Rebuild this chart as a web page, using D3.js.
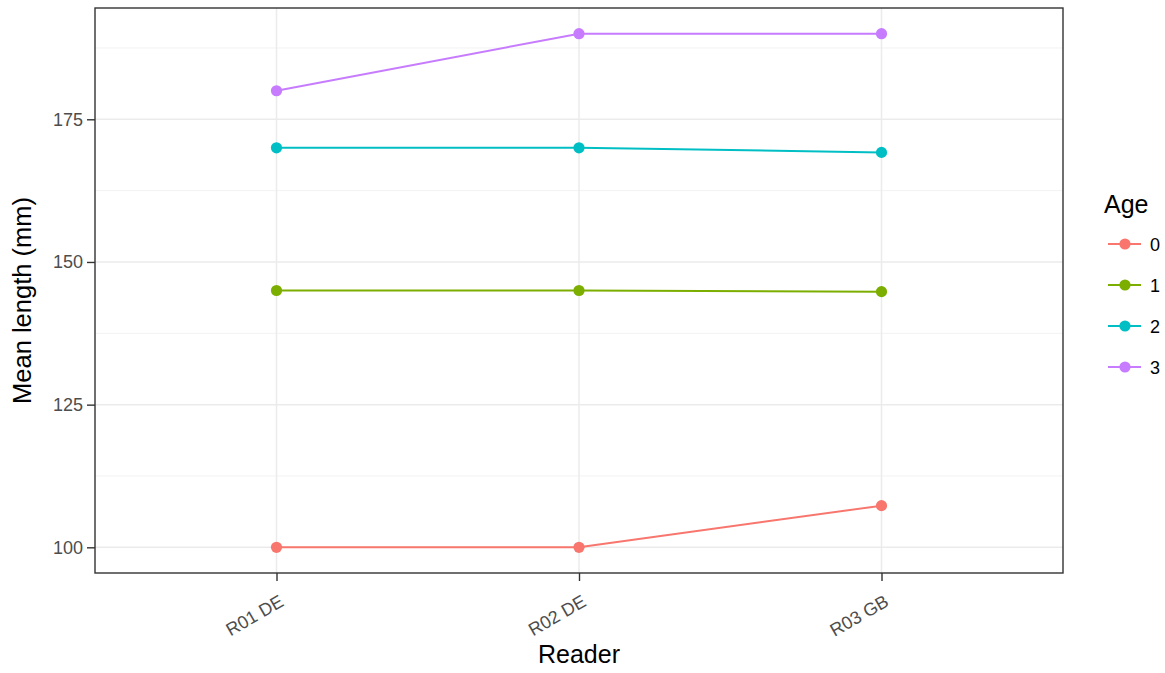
<!DOCTYPE html>
<html><head><meta charset="utf-8">
<script src="https://cdn.jsdelivr.net/npm/d3@7"></script>
<style>body{margin:0;background:#fff;} text{font-family:"Liberation Sans",Arial,sans-serif;}</style>
</head><body>
<svg id="c" width="1165" height="673"></svg>
<script>
const readers = ["R01 DE", "R02 DE", "R03 GB"];
const ages = ["0", "1", "2", "3"];
const colors = ["#F8766D", "#7CAE00", "#00BFC4", "#C77CFF"];
const age0 = [100, 100, 107.3];
const age1 = [145, 145, 144.8];
const age2 = [170, 170, 169.2];
const age3 = [180, 190, 190];
const yTicks = [100, 125, 150, 175];
const yMinor = [112.5, 137.5, 162.5, 187.5];
const seriesValues = [age0, age1, age2, age3];

const svg = d3.select("#c");
const L = 95, R = 1063, T = 8, B = 573;
const x = d3.scalePoint().domain(readers).range([L, R]).padding(0.6);
const yMinV = 95.5, yMaxV = 194.5;
const y = d3.scaleLinear().domain([yMinV, yMaxV]).range([B, T]);
const FF = "Liberation Sans, Arial, sans-serif";

// grid
const g = svg.append("g");
g.selectAll(".mn").data(yMinor).enter().append("line")
  .attr("x1", L).attr("x2", R).attr("y1", d => y(d)).attr("y2", d => y(d))
  .attr("stroke", "#f2f2f2").attr("stroke-width", 1);
g.selectAll(".mj").data(yTicks).enter().append("line")
  .attr("x1", L).attr("x2", R).attr("y1", d => y(d)).attr("y2", d => y(d))
  .attr("stroke", "#ebebeb").attr("stroke-width", 1.5);
g.selectAll(".mx").data(readers).enter().append("line")
  .attr("x1", d => x(d)).attr("x2", d => x(d)).attr("y1", T).attr("y2", B)
  .attr("stroke", "#ebebeb").attr("stroke-width", 1.5);

// lines & points
const line = d3.line().x(d => x(d.r)).y(d => y(d.v));
seriesValues.forEach((vals, i) => {
  const pts = vals.map((v, j) => ({r: readers[j], v}));
  svg.append("path").datum(pts).attr("d", line).attr("fill", "none")
    .attr("stroke", colors[i]).attr("stroke-width", 2);
  svg.selectAll(".p" + i).data(pts).enter().append("circle")
    .attr("cx", d => x(d.r)).attr("cy", d => y(d.v)).attr("r", 5.6)
    .attr("fill", colors[i]);
});

// border
svg.append("rect").attr("x", L).attr("y", T).attr("width", R - L).attr("height", B - T)
  .attr("fill", "none").attr("stroke", "#333333").attr("stroke-width", 1.4);

// y axis
const ya = svg.append("g").attr("transform", `translate(${L},0)`)
  .call(d3.axisLeft(y).tickValues(yTicks).tickSize(8).tickPadding(4));
ya.select(".domain").remove();
ya.selectAll(".tick line").attr("stroke", "#333333").attr("stroke-width", 1.4);
ya.selectAll(".tick text").attr("fill", "#4d4d4d").attr("font-size", 18)
  .style("font-family", FF);

// x axis
const xa = svg.append("g").attr("transform", `translate(0,${B})`)
  .call(d3.axisBottom(x).tickSize(8));
xa.select(".domain").remove();
xa.selectAll(".tick line").attr("stroke", "#333333").attr("stroke-width", 1.4);
xa.selectAll(".tick text").attr("fill", "#4d4d4d").attr("font-size", 18)
  .style("font-family", FF)
  .attr("text-anchor", "end").attr("dy", null)
  .attr("transform", "translate(8,32) rotate(-30)").attr("y", 0).attr("x", 0);

// titles
svg.append("text").attr("x", (L + R) / 2).attr("y", 663).attr("text-anchor", "middle")
  .attr("font-size", 25).attr("fill", "#000").text("Reader");
svg.append("text").attr("transform", `translate(31,${(T + B) / 2 + 10}) rotate(-90)`)
  .attr("text-anchor", "middle").attr("font-size", 25.5).attr("fill", "#000").text("Mean length (mm)");

// legend
const lg = svg.append("g");
lg.append("text").attr("x", 1104).attr("y", 213).attr("font-size", 25).attr("fill", "#000").text("Age");
ages.forEach((a, i) => {
  const yy = 244 + i * 41;
  lg.append("line").attr("x1", 1108).attr("x2", 1141).attr("y1", yy).attr("y2", yy)
    .attr("stroke", colors[i]).attr("stroke-width", 2);
  lg.append("circle").attr("cx", 1125).attr("cy", yy).attr("r", 5.6).attr("fill", colors[i]);
  lg.append("text").attr("x", 1150).attr("y", yy + 6.5).attr("font-size", 18).attr("fill", "#000").text(a);
});
</script>
</body></html>
